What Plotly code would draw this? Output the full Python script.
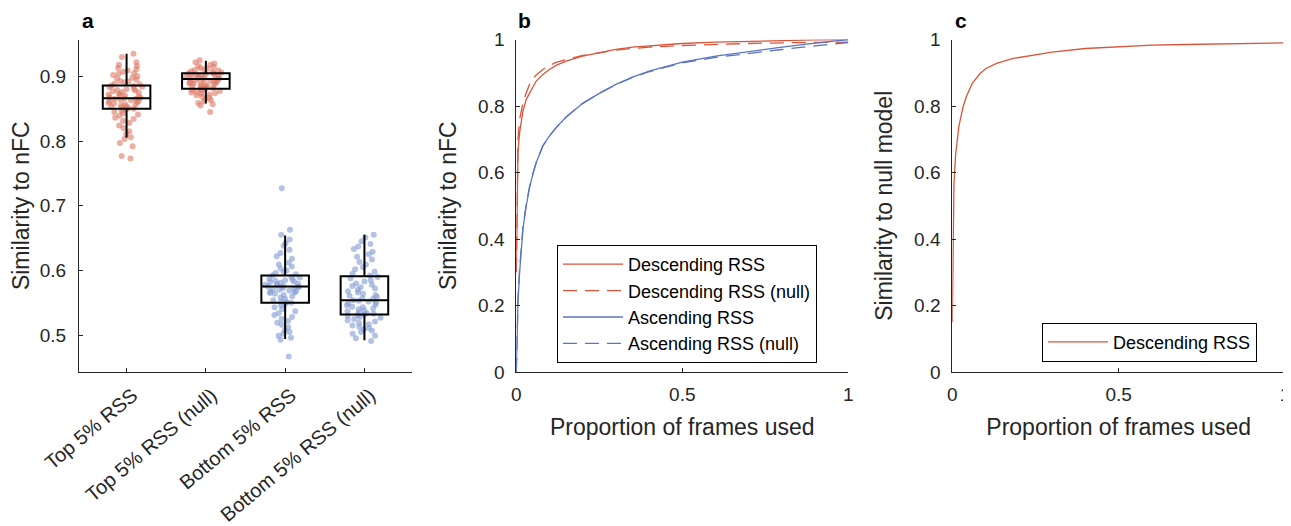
import plotly.graph_objects as go

# ---------------- data ----------------
categories = ["Top 5% RSS", "Top 5% RSS (null)", "Bottom 5% RSS", "Bottom 5% RSS (null)"]

top_vals = [0.935, 0.930, 0.922, 0.918, 0.916, 0.913, 0.911, 0.909, 0.907, 0.905, 0.904, 0.902,
            0.900, 0.898, 0.897, 0.895, 0.893, 0.892, 0.891, 0.889, 0.888, 0.886, 0.885, 0.884,
            0.883, 0.881, 0.880, 0.879, 0.878, 0.877, 0.876, 0.875, 0.873, 0.872, 0.871, 0.870,
            0.869, 0.868, 0.867, 0.866, 0.865, 0.865, 0.864, 0.863, 0.862, 0.861, 0.860, 0.859,
            0.858, 0.857, 0.856, 0.855, 0.854, 0.853, 0.852, 0.851, 0.850, 0.849, 0.847, 0.845,
            0.843, 0.841, 0.839, 0.836, 0.834, 0.831, 0.828, 0.824, 0.820, 0.815, 0.811, 0.806,
            0.803, 0.797, 0.792, 0.777, 0.773]
top_null_vals = [0.925, 0.922, 0.920, 0.918, 0.916, 0.915, 0.913, 0.912, 0.911, 0.910, 0.909, 0.908,
                 0.907, 0.906, 0.905, 0.905, 0.904, 0.903, 0.902, 0.902, 0.901, 0.900, 0.900, 0.899,
                 0.898, 0.898, 0.897, 0.896, 0.896, 0.895, 0.894, 0.894, 0.893, 0.892, 0.892, 0.891,
                 0.890, 0.889, 0.889, 0.888, 0.887, 0.886, 0.885, 0.885, 0.884, 0.883, 0.882, 0.881,
                 0.880, 0.879, 0.878, 0.877, 0.876, 0.875, 0.874, 0.873, 0.872, 0.871, 0.869, 0.867,
                 0.865, 0.863, 0.861, 0.859, 0.857, 0.855, 0.845]
bottom_vals = [0.727, 0.663, 0.655, 0.648, 0.642, 0.638, 0.632, 0.627, 0.622, 0.618, 0.612, 0.609,
               0.606, 0.603, 0.600, 0.598, 0.596, 0.594, 0.592, 0.590, 0.589, 0.587, 0.586, 0.585,
               0.584, 0.583, 0.582, 0.581, 0.580, 0.579, 0.578, 0.577, 0.576, 0.575, 0.575, 0.574,
               0.573, 0.572, 0.571, 0.570, 0.569, 0.568, 0.567, 0.566, 0.565, 0.564, 0.562, 0.560,
               0.558, 0.556, 0.554, 0.552, 0.551, 0.550, 0.548, 0.546, 0.543, 0.540, 0.537, 0.534,
               0.531, 0.528, 0.525, 0.522, 0.519, 0.516, 0.512, 0.508, 0.505, 0.502, 0.499, 0.496,
               0.493, 0.467]
bottom_null_vals = [0.655, 0.651, 0.645, 0.641, 0.637, 0.633, 0.629, 0.625, 0.621, 0.617, 0.613, 0.609,
                    0.605, 0.602, 0.598, 0.595, 0.592, 0.590, 0.588, 0.585, 0.583, 0.580, 0.578, 0.576,
                    0.574, 0.572, 0.570, 0.568, 0.566, 0.564, 0.562, 0.561, 0.559, 0.557, 0.556, 0.554,
                    0.553, 0.552, 0.550, 0.549, 0.547, 0.546, 0.544, 0.543, 0.541, 0.540, 0.538, 0.537,
                    0.535, 0.534, 0.533, 0.532, 0.531, 0.530, 0.528, 0.527, 0.525, 0.523, 0.521, 0.519,
                    0.517, 0.515, 0.513, 0.511, 0.509, 0.507, 0.505, 0.502, 0.499, 0.495, 0.491]

box_q1 = [0.850, 0.881, 0.550, 0.532]
box_median = [0.866, 0.896, 0.575, 0.554]
box_q3 = [0.886, 0.905, 0.592, 0.591]
box_lower = [0.805, 0.858, 0.494, 0.492]
box_upper = [0.935, 0.924, 0.654, 0.655]

# panel b / c curves
frac = [0, 0.002, 0.005, 0.01, 0.015, 0.02, 0.03, 0.04, 0.05, 0.06, 0.08, 0.10, 0.12,
        0.15, 0.20, 0.25, 0.30, 0.35, 0.40, 0.50, 0.60, 0.70, 0.80, 0.90, 1.00]
desc_rss = [0.30, 0.50, 0.66, 0.72, 0.76, 0.785, 0.82, 0.84, 0.86, 0.875, 0.895, 0.91, 0.922,
            0.935, 0.950, 0.961, 0.970, 0.977, 0.981, 0.988, 0.992, 0.995, 0.997, 0.999, 1.0]
desc_rss_null = [0.30, 0.55, 0.70, 0.76, 0.79, 0.81, 0.84, 0.865, 0.882, 0.893, 0.910, 0.922, 0.931,
                 0.940, 0.952, 0.961, 0.968, 0.973, 0.977, 0.982, 0.986, 0.988, 0.990, 0.991, 0.992]
asc_rss = [0.0, 0.10, 0.21, 0.30, 0.38, 0.43, 0.50, 0.555, 0.595, 0.63, 0.68, 0.71, 0.735,
           0.767, 0.808, 0.838, 0.865, 0.887, 0.905, 0.932, 0.950, 0.964, 0.977, 0.989, 1.0]
asc_rss_null = [0.0, 0.11, 0.22, 0.31, 0.385, 0.435, 0.505, 0.558, 0.597, 0.63, 0.68, 0.71, 0.735,
                0.767, 0.808, 0.838, 0.864, 0.886, 0.903, 0.930, 0.946, 0.959, 0.970, 0.981, 0.991]

frac_c = [0, 0.002, 0.005, 0.01, 0.013, 0.02, 0.033, 0.043, 0.06, 0.083, 0.10, 0.133, 0.183,
          0.25, 0.30, 0.40, 0.50, 0.60, 0.70, 0.80, 0.90, 1.00]
null_sim = [0.15, 0.40, 0.566, 0.655, 0.686, 0.74, 0.80, 0.83, 0.868, 0.897, 0.912, 0.928, 0.943,
            0.955, 0.962, 0.973, 0.979, 0.983, 0.985, 0.987, 0.989, 0.990]

# ---------------- styles ----------------
FONT = "Liberation Sans, Arial, Helvetica, sans-serif"
TXT = "#262626"
RED = "#D9553A"
BLUE = "#5B74C2"
RED_DOT = "rgba(222,120,100,0.6)"
BLUE_DOT = "rgba(130,155,210,0.6)"
TICK_SIZE = 19
CAT_SIZE = 20
TITLE_SIZE = 23
LEG_SIZE = 18
DASH = "14px,8px"

# the page body adds an 8px offset; figure is sized to fill the rest of the window
W, H, OFF = 1283, 518, 8


def px_x(p):
    return (p - OFF) / W


def px_y(p):
    return 1 - (p - OFF) / H


fig = go.Figure()

point_sets = [(top_vals, RED_DOT), (top_null_vals, RED_DOT),
              (bottom_vals, BLUE_DOT), (bottom_null_vals, BLUE_DOT)]
for cat, (vals, col) in zip(categories, point_sets):
    fig.add_trace(go.Box(
        x=[cat] * len(vals), y=vals, boxpoints="all", jitter=0.85, pointpos=0,
        width=0.6, fillcolor="rgba(0,0,0,0)", line=dict(width=0, color="rgba(0,0,0,0)"),
        marker=dict(color=col, size=6, line=dict(width=0)),
        showlegend=False, hoverinfo="skip", xaxis="x", yaxis="y"))

fig.add_trace(go.Box(
    x=categories, q1=box_q1, median=box_median, q3=box_q3,
    lowerfence=box_lower, upperfence=box_upper, boxpoints=False,
    width=0.6, whiskerwidth=0, fillcolor="rgba(0,0,0,0)",
    line=dict(color="black", width=2), showlegend=False, xaxis="x", yaxis="y"))

# panel b
fig.add_trace(go.Scatter(x=frac, y=desc_rss, mode="lines", name="Descending RSS",
                         line=dict(color=RED, width=1.3), xaxis="x2", yaxis="y2", legend="legend"))
fig.add_trace(go.Scatter(x=frac, y=desc_rss_null, mode="lines", name="Descending RSS (null)",
                         line=dict(color=RED, width=1.3, dash=DASH), xaxis="x2", yaxis="y2", legend="legend"))
fig.add_trace(go.Scatter(x=frac, y=asc_rss, mode="lines", name="Ascending RSS",
                         line=dict(color=BLUE, width=1.3), xaxis="x2", yaxis="y2", legend="legend"))
fig.add_trace(go.Scatter(x=frac, y=asc_rss_null, mode="lines", name="Ascending RSS (null)",
                         line=dict(color=BLUE, width=1.3, dash=DASH), xaxis="x2", yaxis="y2", legend="legend"))

# panel c
fig.add_trace(go.Scatter(x=frac_c, y=null_sim, mode="lines", name="Descending RSS",
                         line=dict(color=RED, width=1.3), xaxis="x3", yaxis="y3", legend="legend2"))

axis_common = dict(showgrid=False, zeroline=False, showline=True, linecolor=TXT, linewidth=1,
                   ticks="inside", ticklen=4, tickcolor=TXT, ticklabeloverflow="allow",
                   mirror=False, automargin=False)
tickfont = dict(size=TICK_SIZE, color=TXT, family=FONT)
ydom = [px_y(372), px_y(39.5)]


def ttl(text):
    return dict(text=text, font=dict(size=TITLE_SIZE, color=TXT, family=FONT))


fig.update_layout(
    width=W, height=H, margin=dict(l=0, r=0, t=0, b=0, autoexpand=False),
    paper_bgcolor="white", plot_bgcolor="white",
    font=dict(family=FONT, color=TXT),
    boxmode="overlay",
    xaxis=dict(domain=[px_x(79), px_x(412)], anchor="y", type="category", range=[-0.6, 3.6],
               tickangle=-40, ticklabelshift=6, ticklabelstandoff=3,
               tickfont=dict(size=CAT_SIZE, color=TXT, family=FONT), **axis_common),
    yaxis=dict(domain=ydom, anchor="x", range=[0.443, 0.957], tickvals=[0.5, 0.6, 0.7, 0.8, 0.9],
               ticktext=["0.5", "0.6", "0.7", "0.8", "0.9"], title=ttl("Similarity to nFC"),
               ticklabelstandoff=8, tickfont=tickfont, **axis_common),
    xaxis2=dict(domain=[px_x(516.3), px_x(848.3)], anchor="y2", range=[0, 1], tickvals=[0, 0.5, 1],
                ticktext=["0", "0.5", "1"], title=ttl("Proportion of frames used"),
                ticklabelstandoff=5, tickfont=tickfont, **axis_common),
    yaxis2=dict(domain=ydom, anchor="x2", range=[0, 1], tickvals=[0, 0.2, 0.4, 0.6, 0.8, 1],
                ticktext=["0", "0.2", "0.4", "0.6", "0.8", "1"], title=ttl("Similarity to nFC"),
                ticklabelstandoff=7, tickfont=tickfont, **axis_common),
    xaxis3=dict(domain=[px_x(952.3), px_x(1285)], anchor="y3", range=[0, 1], tickvals=[0, 0.5, 1],
                ticktext=["0", "0.5", "1"], title=ttl("Proportion of frames used"),
                ticklabelstandoff=5, tickfont=tickfont, **axis_common),
    yaxis3=dict(domain=ydom, anchor="x3", range=[0, 1], tickvals=[0, 0.2, 0.4, 0.6, 0.8, 1],
                ticktext=["0", "0.2", "0.4", "0.6", "0.8", "1"], title=ttl("Similarity to null model"),
                ticklabelstandoff=7, tickfont=tickfont, **axis_common),
    legend=dict(x=px_x(557), y=px_y(245), xanchor="left", yanchor="top", bgcolor="white",
                bordercolor="black", borderwidth=1, font=dict(size=LEG_SIZE, color="black", family=FONT),
                tracegroupgap=0, itemwidth=60),
    legend2=dict(x=px_x(1042), y=px_y(322.7), xanchor="left", yanchor="top", bgcolor="white",
                 bordercolor="black", borderwidth=1, font=dict(size=LEG_SIZE, color="black", family=FONT),
                 itemwidth=60),
    annotations=[
        dict(text="<b>a</b>", x=px_x(88), y=px_y(21), xref="paper", yref="paper",
             xanchor="center", yanchor="middle", showarrow=False,
             font=dict(size=21, color="black", family=FONT)),
        dict(text="<b>b</b>", x=px_x(524), y=px_y(21), xref="paper", yref="paper",
             xanchor="center", yanchor="middle", showarrow=False,
             font=dict(size=21, color="black", family=FONT)),
        dict(text="<b>c</b>", x=px_x(961), y=px_y(21), xref="paper", yref="paper",
             xanchor="center", yanchor="middle", showarrow=False,
             font=dict(size=21, color="black", family=FONT)),
    ],
)

fig.write_html("out.html")
